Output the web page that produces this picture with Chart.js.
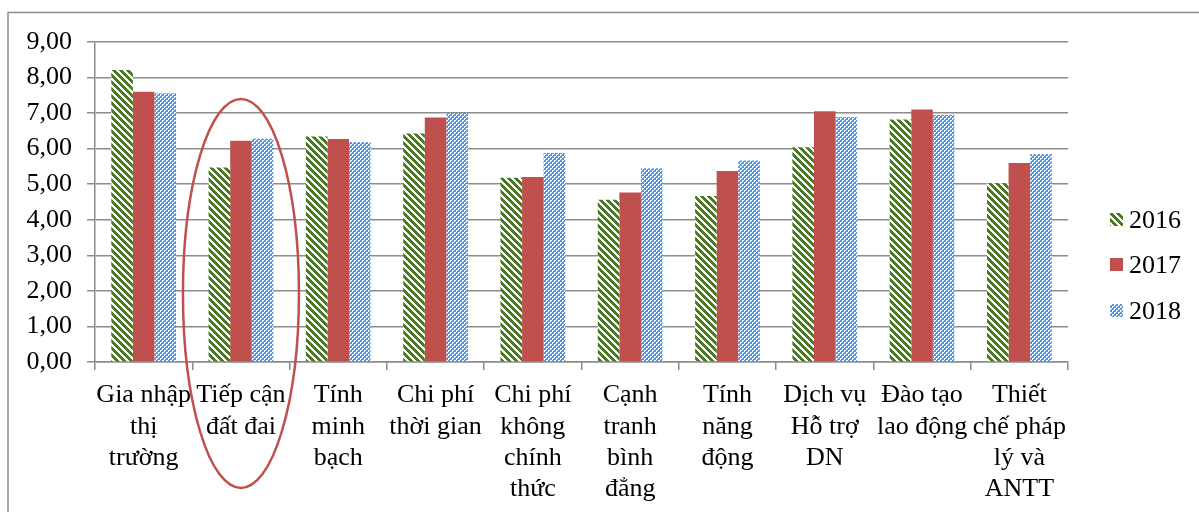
<!DOCTYPE html>
<html><head><meta charset="utf-8">
<script src="https://cdn.jsdelivr.net/npm/chart.js@4.4.1/dist/chart.umd.min.js"></script>
<style>html,body{margin:0;padding:0;background:#fff}#wrap{width:1199px;height:512px;position:relative}</style>
</head><body><div id="wrap"><canvas id="c"></canvas></div>
<script>
const categories = [
  ["Gia nhập","thị","trường"],
  ["Tiếp cận","đất đai"],
  ["Tính","minh","bạch"],
  ["Chi phí","thời gian"],
  ["Chi phí","không","chính","thức"],
  ["Cạnh","tranh","bình","đẳng"],
  ["Tính","năng","động"],
  ["Dịch vụ","Hỗ trợ","DN"],
  ["Đào tạo","lao động"],
  ["Thiết","chế pháp","lý và","ANTT"]
];
const seriesNames = ["2016","2017","2018"];
const values2016 = [8.21,5.47,6.34,6.43,5.18,4.56,4.67,6.04,6.82,5.03];
const values2017 = [7.60,6.22,6.27,6.88,5.20,4.77,5.37,7.05,7.10,5.60];
const values2018 = [7.56,6.28,6.19,7.00,5.88,5.45,5.67,6.89,6.95,5.85];
const yTickLabels = ["0,00","1,00","2,00","3,00","4,00","5,00","6,00","7,00","8,00","9,00"];
const highlightIndex = 1;

const canvas = document.getElementById('c');
const ctx = canvas.getContext('2d');

function stripePattern(color){
  const n=7, c=document.createElement('canvas'); c.width=n; c.height=n;
  const g=c.getContext('2d'); g.fillStyle='#fff'; g.fillRect(0,0,n,n); g.fillStyle=color;
  for(let y=0;y<n;y++) for(let x=0;x<n;x++) if((((x-y)%n)+n)%n<4) g.fillRect(x,y,1,1);
  return ctx.createPattern(c,'repeat');
}
function checkPattern(color){
  const n=4, c=document.createElement('canvas'); c.width=n; c.height=n;
  const g=c.getContext('2d'); g.fillStyle='#fff'; g.fillRect(0,0,n,n); g.fillStyle=color;
  for(let y=0;y<n;y++) for(let x=0;x<n;x++){
    const blueCell = (Math.floor(x/2)+Math.floor(y/2))%2===0;
    if(blueCell || (x%2===1 && y%2===1)) g.fillRect(x,y,1,1);
  }
  return ctx.createPattern(c,'repeat');
}
const fills = [stripePattern('#4A7A22'), '#C0504D', checkPattern('#5796D8')];

const FONT = "'Liberation Serif','Times New Roman',serif";
Chart.defaults.font.family = FONT;
Chart.defaults.font.size = 26;
Chart.defaults.color = '#000';

const framePlugin = {
  id:'frame',
  beforeDraw(chart){
    const g=chart.ctx; g.save(); g.fillStyle='#fff'; g.fillRect(0,0,chart.width,chart.height);
    g.strokeStyle='#8c8c8c'; g.lineWidth=1.5;
    g.beginPath(); g.moveTo(8,chart.height); g.lineTo(8,12.5); g.lineTo(chart.width,12.5); g.stroke();
    g.restore();
  },
  afterDraw(chart){
    const g=chart.ctx, xs=chart.scales.x, ys=chart.scales.y;
    const cx = xs.getPixelForValue(highlightIndex);
    const top = ys.getPixelForValue(7.4), bottom = 488;
    g.save(); g.strokeStyle='#C0504D'; g.lineWidth=2.5;
    g.beginPath(); g.ellipse(cx,(top+bottom)/2,58,(bottom-top)/2,0,0,Math.PI*2); g.stroke();
    const lx = 1110, ys0=[220,265,311];
    g.font = "26px "+FONT; g.textBaseline='middle'; g.textAlign='left'; g.fillStyle='#000';
    seriesNames.forEach((n,i)=>{
      g.fillStyle = fills[i]; g.fillRect(lx, ys0[i]-7, 13, 13);
      g.fillStyle = '#000'; g.fillText(n, lx+19, ys0[i]+1);
    });
    g.restore();
  }
};

new Chart(canvas, {
  type:'bar',
  data:{
    labels: categories,
    datasets: [values2016, values2017, values2018].map((v,i)=>({
      label: seriesNames[i], data: v, backgroundColor: fills[i], borderWidth:0,
      barPercentage:1, categoryPercentage:0.665
    }))
  },
  options:{
    responsive:true, maintainAspectRatio:false, animation:false, devicePixelRatio:1,
    layout:{padding:{left:0,top:42,right:131,bottom:0}},
    plugins:{legend:{display:false}, tooltip:{enabled:false}},
    scales:{
      x:{
        grid:{display:true, drawOnChartArea:false, drawTicks:true, tickLength:8, color:'#8c8c8c', lineWidth:1.5, offset:true},
        border:{display:true, color:'#8c8c8c', width:1.5},
        ticks:{autoSkip:false, maxRotation:0, minRotation:0, padding:10, font:{size:26, lineHeight:1.2}},
        afterFit(s){ s.height = 150; }
      },
      y:{
        min:0, max:9,
        grid:{color:'#8c8c8c', lineWidth:1.5, tickLength:8, drawTicks:true},
        border:{display:true, color:'#8c8c8c', width:1.5},
        ticks:{stepSize:1, padding:15, font:{size:26}, callback:(v,i)=>yTickLabels[i]},
        afterFit(s){ s.width = 95; }
      }
    }
  },
  plugins:[framePlugin]
});
</script></body></html>
